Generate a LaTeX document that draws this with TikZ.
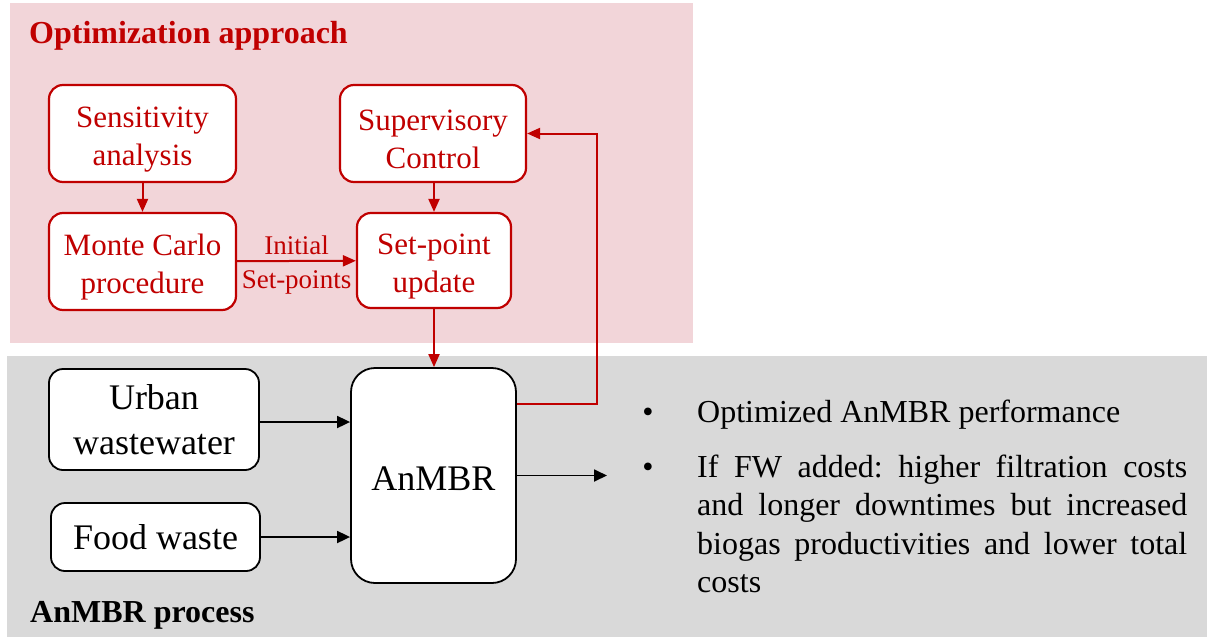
\documentclass[tikz,border=0pt]{standalone}
\usepackage{fontspec}
\setmainfont{Liberation Serif}
\frenchspacing
\usetikzlibrary{arrows.meta,calc}
\definecolor{optred}{RGB}{192,0,0}
\definecolor{optpink}{RGB}{242,213,217}
\definecolor{procgray}{RGB}{217,217,217}
% extra room above the first line, so box texts sit a little low
\newcommand{\toproom}[1]{\rule{0pt}{#1}}
\tikzset{
  redbox/.style={draw=optred, line width=2.2pt, fill=white, rounded corners=14pt,
    text=optred, align=center, inner sep=0pt, font=\fontsize{31}{38}\selectfont},
  blackbox/.style={draw=black, line width=1.8pt, fill=white, rounded corners=14pt,
    align=center, inner sep=0pt, font=\fontsize{36}{45}\selectfont},
  redarrow/.style={draw=optred, line width=2pt, -{Triangle[length=13pt,width=11pt]}},
  blackarrow/.style={draw=black, line width=1.8pt, -{Triangle[length=13pt,width=12pt]}},
  sectitle/.style={anchor=base west, inner sep=0pt, font=\fontsize{32}{38}\selectfont\bfseries},
  bodytext/.style={anchor=base west, inner sep=0pt, font=\fontsize{32}{38}\selectfont},
}
\begin{document}
\begin{tikzpicture}[x=1pt,y=-1pt]
  \useasboundingbox (0,0) rectangle (1207,637);

  % section backgrounds
  \fill[optpink] (10,3) rectangle (693,343);
  \fill[procgray] (7,356) rectangle (1207,637);

  % section titles
  \node[sectitle, text=optred] (opttitle) at (29,43) {Optimization approach};
  \node[sectitle] (proctitle) at (30,622) {AnMBR process};

  % optimization approach
  \node[redbox, minimum width=187pt, minimum height=97pt] (sens) at (142.5,133.5) {\toproom{32pt}Sensitivity\\analysis};
  \node[redbox, minimum width=187pt, minimum height=97pt] (mc) at (142.5,261.5) {\toproom{32pt}Monte Carlo\\procedure};
  \node[redbox, minimum width=186pt, minimum height=97pt] (sup) at (433,133.5) {\toproom{32pt}Supervisory\\Control};
  \node[redbox, minimum width=154pt, minimum height=95pt] (spu) at (434,260.5) {\toproom{32pt}Set-point\\update};

  \draw[redarrow] (sens) -- (mc);
  \draw[redarrow] (sup.south -| spu.north) -- (spu.north);
  \draw[redarrow] (mc) -- node[midway, yshift=-4pt, align=center, text=optred, inner sep=0pt,
    font=\fontsize{27}{34}\selectfont] (initlabel) {Initial\\Set-points} (spu);

  % AnMBR process
  \node[blackbox, minimum width=210pt, minimum height=101pt] (urban) at (154,419.5) {Urban\\wastewater};
  \node[blackbox, minimum width=209pt, minimum height=68pt] (food) at (155.5,537) {Food waste};
  \node[blackbox, rounded corners=24pt, minimum width=165pt, minimum height=215pt] (anmbr) at (433.5,475.5) {\toproom{30pt}AnMBR};

  \draw[redarrow] (spu.south) -- (spu.south |- anmbr.north);
  \coordinate (fbturn) at (597,133.5);
  \draw[redarrow] ([yshift=71.5pt]anmbr.east) -| (fbturn) -- (sup.east);

  \draw[blackarrow] ([yshift=-2.5pt]urban.east) -- ([yshift=-2.5pt]urban.east -| anmbr.west);
  \draw[blackarrow] (food.east) -- (food.east -| anmbr.west);
  \coordinate (outlet) at (607,475.5);
  \draw[blackarrow] (anmbr.east) -- (outlet);

  % outcomes
  \node[bodytext, anchor=base] (b1) at (648,422) {•};
  \node[bodytext] (t1) at (697,422) {Optimized AnMBR performance};
  \node[bodytext, anchor=base] (b2) at (648,477) {•};
  \node[bodytext] (t2a) at (697,477) {\makebox[490pt][s]{If FW added: higher filtration costs}};
  \node[bodytext] (t2b) at (697,515.5) {\makebox[490pt][s]{and longer downtimes but increased}};
  \node[bodytext] (t2c) at (697,554) {\makebox[490pt][s]{biogas productivities and lower total}};
  \node[bodytext] (t2d) at (697,592) {costs};
\end{tikzpicture}
\end{document}
